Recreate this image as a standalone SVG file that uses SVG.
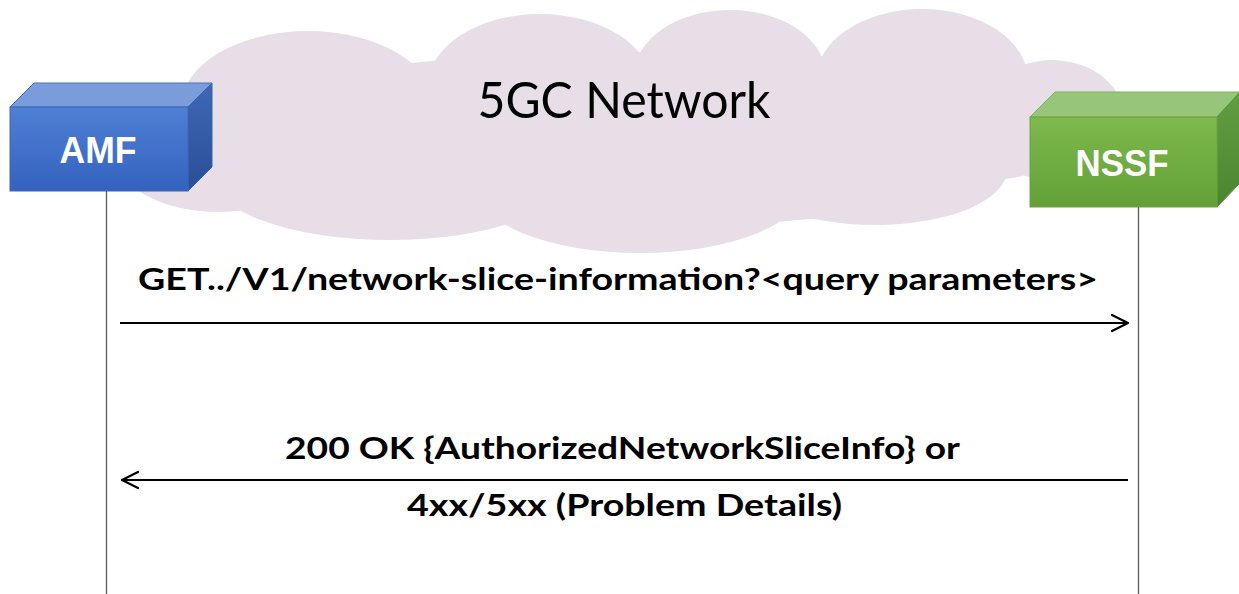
<svg xmlns="http://www.w3.org/2000/svg" width="1239" height="594" viewBox="0 0 1239 594">
<defs>
<style>
.cloud ellipse{fill:#E7DEE8}
.lifeline{stroke:#595959;stroke-width:1.3;fill:none}
.msg{stroke:#000;stroke-width:2;fill:none}
.head{stroke:#000;stroke-width:2.2;fill:none;stroke-linecap:round;stroke-linejoin:round}
.nf{font-family:"Liberation Sans",Arial,sans-serif;font-weight:bold;font-size:36px;fill:#fff;text-anchor:middle}
.lbl{font-family:Lato,"Open Sans",sans-serif;font-weight:bold;font-size:30px;fill:#000}
.title{font-family:Lato,"Open Sans",sans-serif;font-size:51px;fill:#000}
</style>
<linearGradient id="amfFront" x1="0" y1="0" x2="0" y2="1">
<stop offset="0" stop-color="#4E80D5"/><stop offset="1" stop-color="#3462BE"/>
</linearGradient>
<linearGradient id="amfSide" x1="0" y1="0" x2="0" y2="1">
<stop offset="0" stop-color="#3E68B4"/><stop offset="1" stop-color="#2A4E98"/>
</linearGradient>
<linearGradient id="nssfFront" x1="0" y1="0" x2="0" y2="1">
<stop offset="0" stop-color="#7DB94C"/><stop offset="1" stop-color="#62A036"/>
</linearGradient>
<linearGradient id="nssfSide" x1="0" y1="0" x2="0" y2="1">
<stop offset="0" stop-color="#629E42"/><stop offset="1" stop-color="#4A862E"/>
</linearGradient>
</defs>
<rect width="1239" height="594" fill="#fff"/>
<g id="cloud" class="cloud">
<ellipse cx="620" cy="140" rx="430" ry="88"/>
<ellipse cx="218" cy="150" rx="106" ry="62"/>
<ellipse cx="308" cy="107" rx="127" ry="76"/>
<ellipse cx="540" cy="86" rx="112" ry="72"/>
<ellipse cx="730" cy="76" rx="96" ry="66"/>
<ellipse cx="922" cy="80" rx="106" ry="71"/>
<ellipse cx="1052" cy="120" rx="73" ry="60"/>
<ellipse cx="390" cy="176" rx="178" ry="64"/>
<ellipse cx="640" cy="186" rx="165" ry="67"/>
<ellipse cx="875" cy="170" rx="132" ry="55"/>
<ellipse cx="1000" cy="150" rx="50" ry="29"/>
<text class="title" x="624" y="118" text-anchor="middle" textLength="293" lengthAdjust="spacingAndGlyphs">5GC Network</text>
</g>
<g id="connectors">
<line class="lifeline" x1="106.5" y1="191" x2="106.5" y2="594"/>
<line class="lifeline" x1="1138.5" y1="207" x2="1138.5" y2="594"/>
<line class="msg" x1="120" y1="323" x2="1127" y2="323"/>
<polyline class="head" points="1112,315 1128,323 1112,331"/>
<line class="msg" x1="124" y1="480" x2="1128" y2="480"/>
<polyline class="head" points="138,472 122,480 138,488"/>
<text class="lbl" x="138" y="290" textLength="960" lengthAdjust="spacingAndGlyphs">GET../V1/network-slice-information?&lt;query parameters&gt;</text>
<text class="lbl" x="285" y="459" textLength="675" lengthAdjust="spacingAndGlyphs">200 OK {AuthorizedNetworkSliceInfo} or</text>
<text class="lbl" x="407" y="516" textLength="435" lengthAdjust="spacingAndGlyphs">4xx/5xx (Problem Details)</text>
</g>
<g id="amf">
<polygon points="10,107 34,83 212,83 188,107" fill="#7B9CDA" stroke="#4A72BC" stroke-width="1"/>
<polygon points="188,107 212,83 212,167 188,191" fill="url(#amfSide)" stroke="#3A62AC" stroke-width="1"/>
<rect x="10" y="107" width="178" height="84" fill="url(#amfFront)" stroke="#3A66B8" stroke-width="1"/>
<text class="nf" x="98" y="163" textLength="77" lengthAdjust="spacingAndGlyphs">AMF</text>
</g>
<g id="nssf">
<polygon points="1030,117 1055,92 1240,92 1217,117" fill="#97C67B" stroke="#7AB35A" stroke-width="1"/>
<polygon points="1217,117 1240,92 1240,183 1217,207" fill="url(#nssfSide)" stroke="#55933A" stroke-width="1"/>
<rect x="1030" y="117" width="187" height="90" fill="url(#nssfFront)" stroke="#6AA640" stroke-width="1"/>
<text class="nf" x="1122" y="176" textLength="93" lengthAdjust="spacingAndGlyphs">NSSF</text>
</g>
</svg>
